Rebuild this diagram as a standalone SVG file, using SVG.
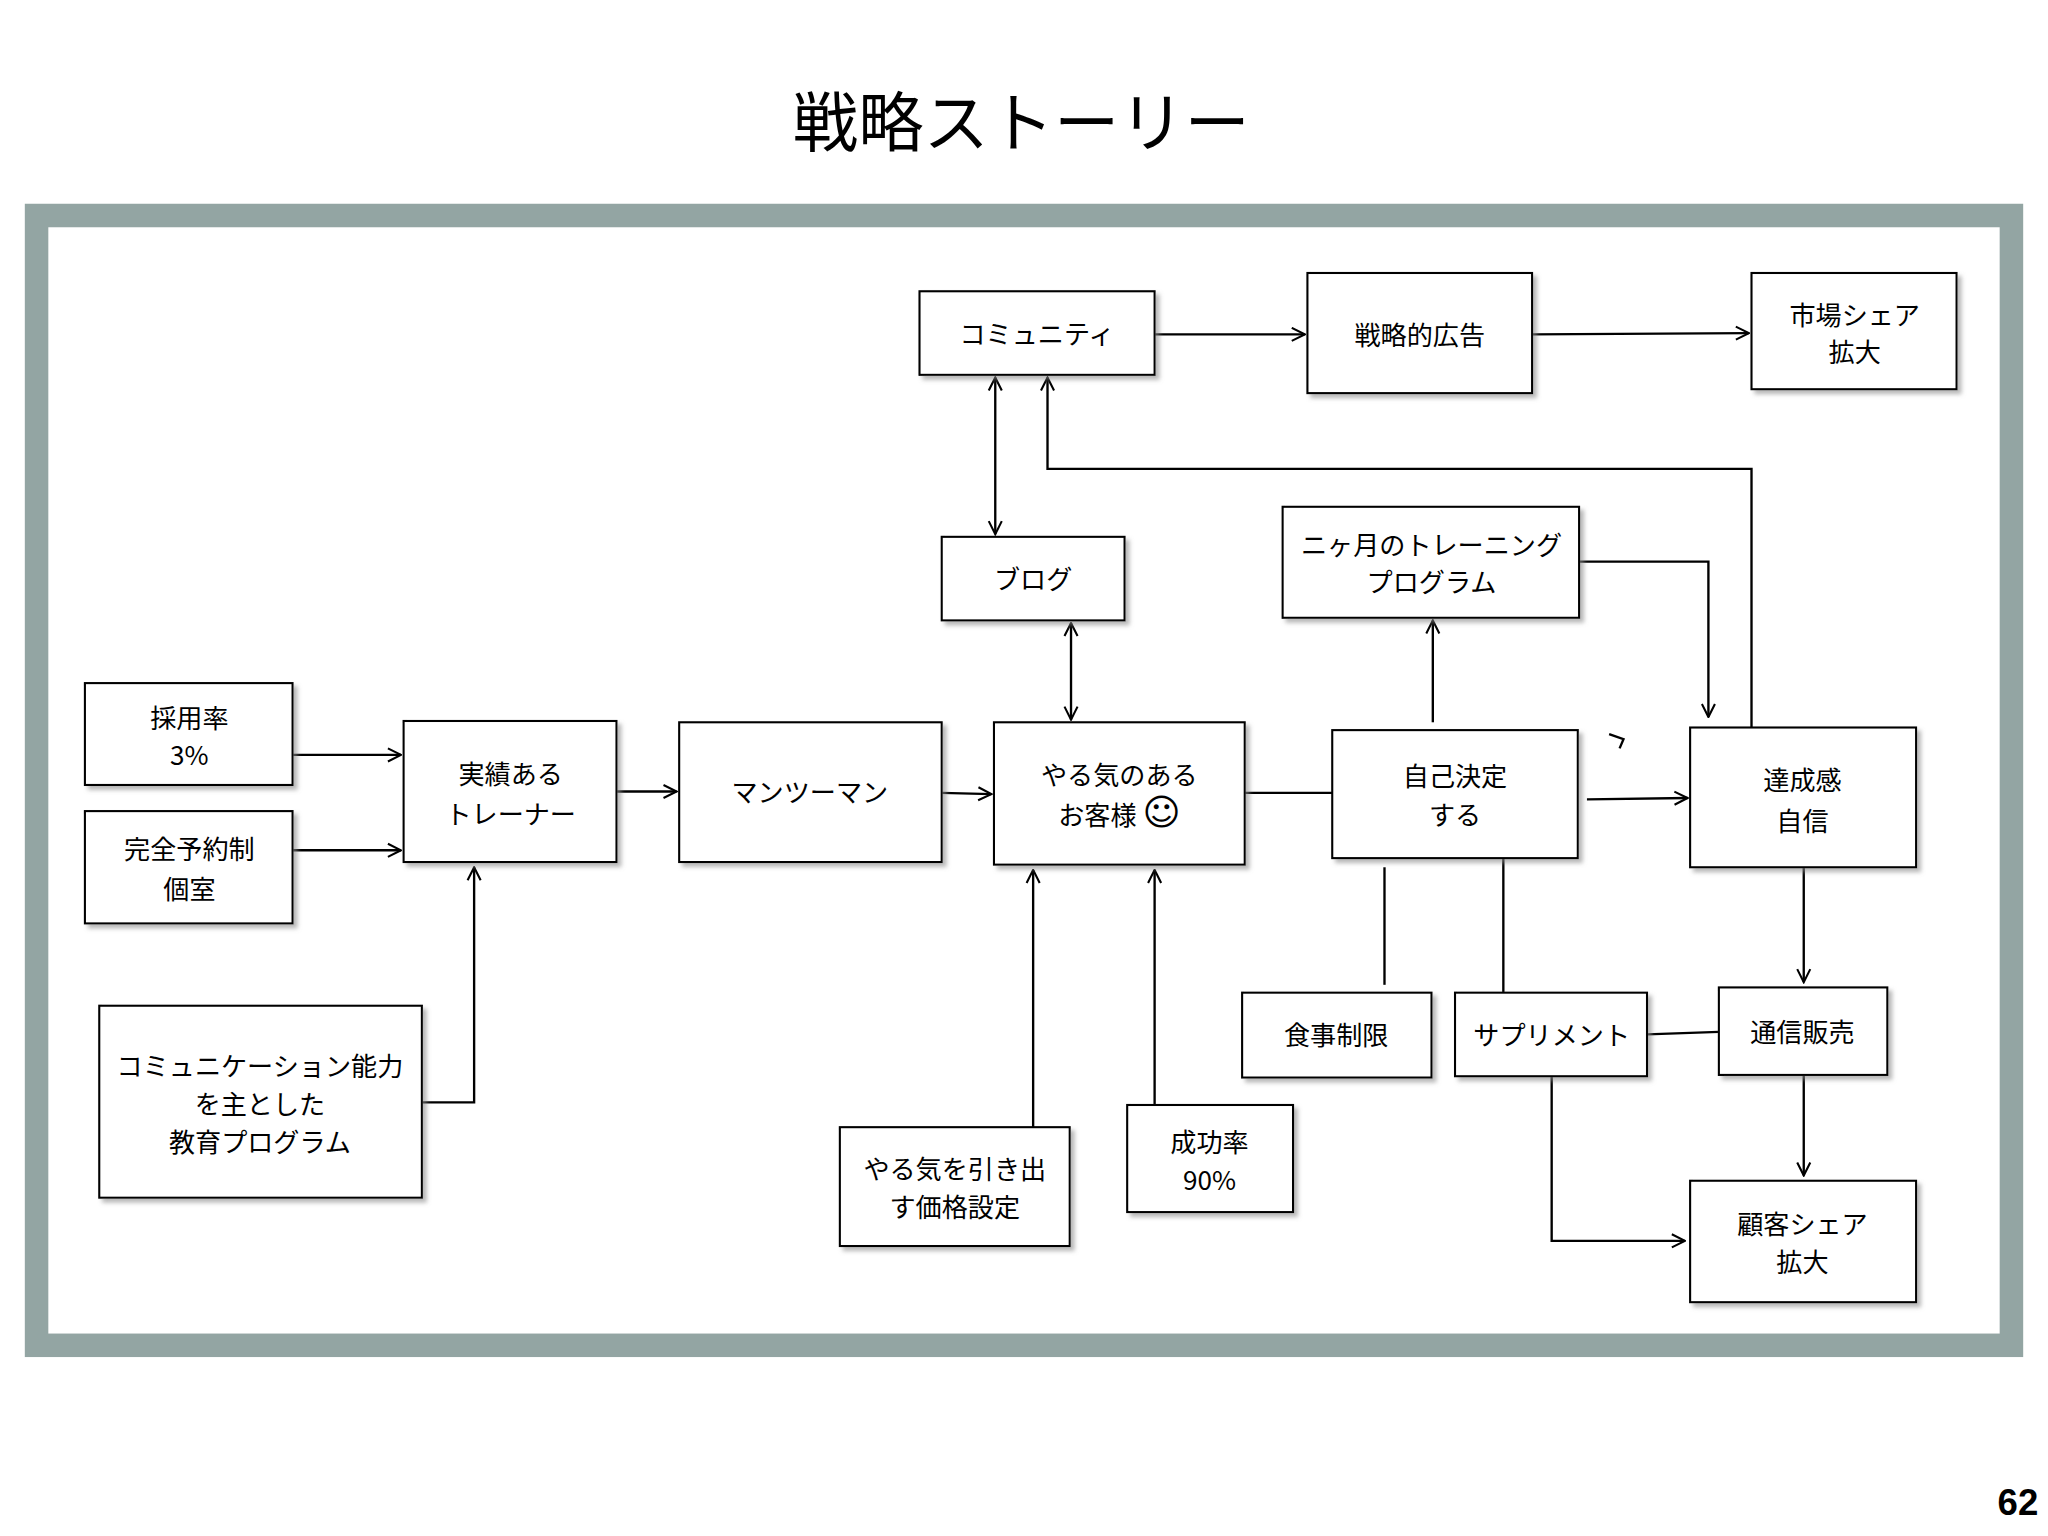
<svg xmlns="http://www.w3.org/2000/svg" width="2048" height="1536" viewBox="0 0 2048 1536">
<style>
.n rect{fill:#fff;stroke:#000;stroke-width:1.6;filter:url(#sh)}
.n text{font-family:"Noto Sans CJK JP","Liberation Sans",sans-serif;font-size:20px;text-anchor:middle;fill:#000}
#c path{fill:none;stroke:#000;stroke-width:1.8}
</style>
<defs>
<marker id="a" viewBox="0 0 12 12" refX="11" refY="6" markerWidth="12" markerHeight="12" markerUnits="userSpaceOnUse" orient="auto-start-reverse"><path d="M1,1 L11,6 L1,11" fill="none" stroke="#000" stroke-width="1.6"/></marker>
<filter id="sh" x="-10%" y="-10%" width="130%" height="130%"><feDropShadow dx="3" dy="3" stdDeviation="1.5" flood-color="#888" flood-opacity="0.6"/></filter>
</defs>
<rect width="2048" height="1536" fill="#fff"/>
<g transform="scale(1.30612)">
<text x="782" y="112" font-family="Noto Sans CJK JP,sans-serif" font-size="50" text-anchor="middle">戦略ストーリー</text>
<text x="1545" y="1160" font-family="Liberation Sans,sans-serif" font-size="28" font-weight="bold" text-anchor="middle">62</text>
<rect x="28" y="165" width="1512" height="865" fill="#fff" stroke="#93a5a3" stroke-width="18"/>
<g id="c">
<path d="M884,256H999" marker-end="url(#a)"/>
<path d="M1173,256L1339,255" marker-end="url(#a)"/>
<path d="M762,289V409" marker-start="url(#a)" marker-end="url(#a)"/>
<path d="M1341,557V359H802V289" marker-end="url(#a)"/>
<path d="M820,477V551" marker-start="url(#a)" marker-end="url(#a)"/>
<path d="M220,578H307" marker-end="url(#a)"/>
<path d="M212,651H307" marker-end="url(#a)"/>
<path d="M323,844H363V664" marker-end="url(#a)"/>
<path d="M472,606H518" marker-end="url(#a)"/>
<path d="M721,607L759,608" marker-end="url(#a)"/>
<path d="M953,607H1020"/>
<path d="M1097,553V475" marker-end="url(#a)"/>
<path d="M1209,430H1308V549" marker-end="url(#a)"/>
<path d="M1215,612L1292,611" marker-end="url(#a)"/>
<path d="M1232,562L1243,566L1240,573"/>
<path d="M1060,664V754"/>
<path d="M1151,657V760"/>
<path d="M1261,792L1316,790"/>
<path d="M1381,664V752" marker-end="url(#a)"/>
<path d="M1381,823V900" marker-end="url(#a)"/>
<path d="M1188,824V950H1290" marker-end="url(#a)"/>
<path d="M791,863V666" marker-end="url(#a)"/>
<path d="M884,846V666" marker-end="url(#a)"/>
</g>
<g id="n1" class="n"><rect x="704" y="223" width="180" height="64"/><text x="794" y="263" font-size="18">コミュニティ</text></g>
<g id="n2" class="n"><rect x="1001" y="209" width="172" height="92"/><text x="1087" y="264">戦略的広告</text></g>
<g id="n3" class="n"><rect x="1341" y="209" width="157" height="89"/><text x="1420" y="249">市場シェア</text><text x="1420" y="277">拡大</text></g>
<g id="n4" class="n"><rect x="721" y="411" width="140" height="64"/><text x="791" y="451">ブログ</text></g>
<g id="n5" class="n"><rect x="982" y="388" width="227" height="85"/><text x="1096" y="425">ニヶ月のトレーニング</text><text x="1096" y="453">プログラム</text></g>
<g id="n6" class="n"><rect x="65" y="523" width="159" height="78"/><text x="145" y="557">採用率</text><text x="145" y="586">3%</text></g>
<g id="n7" class="n"><rect x="65" y="621" width="159" height="86"/><text x="145" y="658">完全予約制</text><text x="145" y="688">個室</text></g>
<g id="n8" class="n"><rect x="309" y="552" width="163" height="108"/><text x="391" y="600">実績ある</text><text x="391" y="631">トレーナー</text></g>
<g id="n9" class="n"><rect x="520" y="553" width="201" height="107"/><text x="620" y="614">マンツーマン</text></g>
<g id="n10" class="n"><rect x="761" y="553" width="192" height="109"/><text x="857" y="601">やる気のある</text><text x="857" y="632">お客様 <tspan font-family="DejaVu Sans,sans-serif" font-size="28">☺</tspan></text></g>
<g id="n11" class="n"><rect x="1020" y="559" width="188" height="98"/><text x="1114" y="602">自己決定</text><text x="1114" y="632">する</text></g>
<g id="n12" class="n"><rect x="1294" y="557" width="173" height="107"/><text x="1380" y="605">達成感</text><text x="1380" y="636">自信</text></g>
<g id="n13" class="n"><rect x="76" y="770" width="247" height="147"/><text x="199" y="824">コミュニケーション能力</text><text x="199" y="853">を主とした</text><text x="199" y="882">教育プログラム</text></g>
<g id="n14" class="n"><rect x="951" y="760" width="145" height="65"/><text x="1023" y="800">食事制限</text></g>
<g id="n15" class="n"><rect x="1114" y="760" width="147" height="64"/><text x="1188" y="800" font-size="19">サプリメント</text></g>
<g id="n16" class="n"><rect x="1316" y="756" width="129" height="67"/><text x="1380" y="798">通信販売</text></g>
<g id="n17" class="n"><rect x="643" y="863" width="176" height="91"/><text x="731" y="903">やる気を引き出</text><text x="731" y="932">す価格設定</text></g>
<g id="n18" class="n"><rect x="863" y="846" width="127" height="82"/><text x="926" y="882">成功率</text><text x="926" y="911">90%</text></g>
<g id="n19" class="n"><rect x="1294" y="904" width="173" height="93"/><text x="1380" y="945">顧客シェア</text><text x="1380" y="974">拡大</text></g>
</g>
</svg>
